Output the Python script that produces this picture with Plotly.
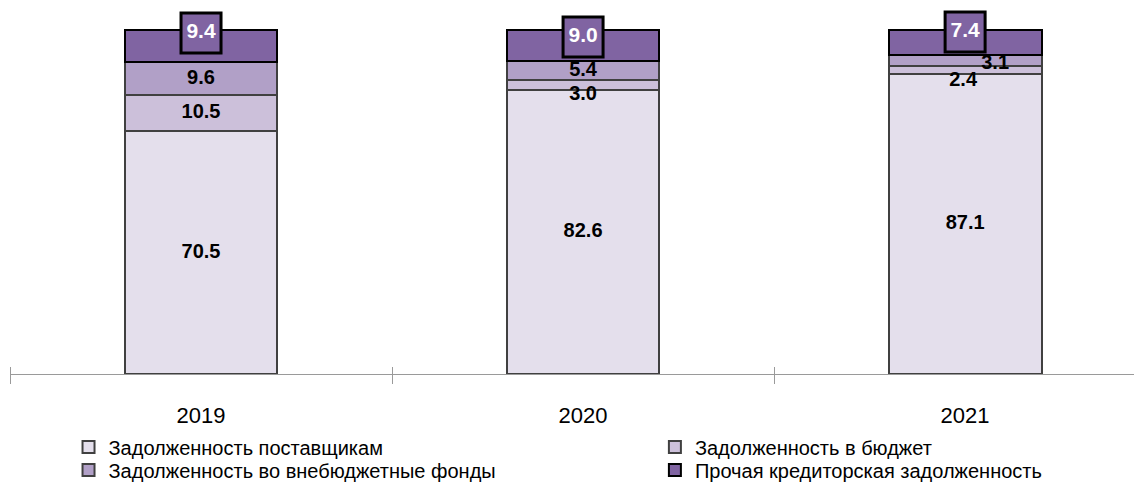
import plotly.graph_objects as go

years = [2019, 2020, 2021]
year_labels = ["2019", "2020", "2021"]
series_names = [
    "Задолженность поставщикам",
    "Задолженность в бюджет",
    "Задолженность во внебюджетные фонды",
    "Прочая кредиторская задолженность",
]
suppliers = [70.5, 82.6, 87.1]
budget = [10.5, 3.0, 2.4]
offbudget = [9.6, 5.4, 3.1]
other = [9.4, 9.0, 7.4]

series_values = [suppliers, budget, offbudget, other]
colors = ["#E4DFEC", "#CCC0DA", "#B1A0C7", "#8064A2"]
line_colors = ["#404040", "#404040", "#404040", "#000000"]
legend_ids = ["legend2", "legend3", "legend4", "legend5"]

FONT = "Liberation Sans, Arial, sans-serif"

# geometry (style): figure/plot sizes used to convert pixel nudges to data units
FIG_W, FIG_H = 1134, 477
M_L, M_R, M_T, M_B = 2, 0, 2, 111
X_RANGE = [years[0] - 0.5, years[0] - 0.5 + 2.963]
Y_TOP = 105.81
plot_w = FIG_W - M_L - M_R
plot_h = FIG_H - M_T - M_B
px_x = plot_w / (X_RANGE[1] - X_RANGE[0])
px_y = plot_h / Y_TOP

fig = go.Figure()
for name, vals, c, lc, lg in zip(series_names, series_values, colors, line_colors, legend_ids):
    fig.add_trace(go.Bar(
        x=years, y=vals, name=name, width=0.40, legend=lg,
        marker=dict(color=c, line=dict(color=lc, width=2)),
        hoverinfo="skip",
    ))

# per-label pixel nudges (style only): (series index, year index) -> (dx_px, dy_px), +y = up
nudges = {
    (2, 1): (0, -1),
    (1, 1): (0, -10),
    (1, 2): (-2, -11),
    (2, 2): (30, -3),
}
top_nudge = [-3, -7, -2]

cum = [0.0] * len(years)
for s in range(3):
    xs, ys, ts = [], [], []
    for i in range(len(years)):
        v = series_values[s][i]
        dx, dy = nudges.get((s, i), (0, 0))
        xs.append(years[i] + dx / px_x)
        ys.append(cum[i] + v / 2 + dy / px_y)
        ts.append(f"{v:.1f}")
        cum[i] += v
    fig.add_trace(go.Scatter(
        x=xs, y=ys, text=ts, mode="text", textposition="middle center",
        textfont=dict(family=FONT, size=20, color="#000000", weight="bold"),
        showlegend=False, hoverinfo="skip", cliponaxis=False,
    ))

tops = [cum[i] + other[i] for i in range(len(years))]
fig.add_trace(go.Scatter(
    x=years, y=[tops[i] + top_nudge[i] / px_y for i in range(len(years))],
    text=[f"{v:.1f}" for v in other], mode="markers+text",
    textposition="middle center",
    marker=dict(symbol="square", size=40, color="#8064A2",
                line=dict(color="#000000", width=3)),
    textfont=dict(family=FONT, size=21, color="#FFFFFF", weight="bold"),
    showlegend=False, hoverinfo="skip", cliponaxis=False,
))

legend_common = dict(
    orientation="v", xanchor="left", yanchor="middle",
    font=dict(family=FONT, size=20, color="#000000"),
    itemwidth=30, bgcolor="rgba(0,0,0,0)",
)

boundaries = [y - 0.5 for y in years]

fig.update_layout(
    barmode="stack",
    width=FIG_W, height=FIG_H,
    margin=dict(l=M_L, r=M_R, t=M_T, b=M_B, autoexpand=False),
    paper_bgcolor="#FFFFFF", plot_bgcolor="#FFFFFF",
    font=dict(family=FONT, size=20, color="#000000"),
    xaxis=dict(
        range=X_RANGE,
        showline=True, linecolor="#9A9A9A", linewidth=1.3,
        tickmode="array", tickvals=boundaries, ticktext=year_labels,
        ticks="outside", ticklen=9, tickcolor="#9A9A9A", tickwidth=1.3,
        ticklabelshift=int(round(px_x / 2)),
        showgrid=False, zeroline=False,
        tickfont=dict(family=FONT, size=22, color="#000000"),
        ticklabelstandoff=12,
        minor=dict(tickmode="array", tickvals=[b + 0.002 for b in boundaries],
                   ticks="inside", ticklen=7, tickcolor="#9A9A9A",
                   tickwidth=1.3, showgrid=False),
    ),
    yaxis=dict(range=[0, Y_TOP], visible=False, showgrid=False, zeroline=False),
    legend2=dict(x=0.0517, y=-0.2005, **legend_common),
    legend3=dict(x=0.5697, y=-0.2005, **legend_common),
    legend4=dict(x=0.0517, y=-0.2637, **legend_common),
    legend5=dict(x=0.5697, y=-0.2637, **legend_common),
)

fig.write_html("out.html")
